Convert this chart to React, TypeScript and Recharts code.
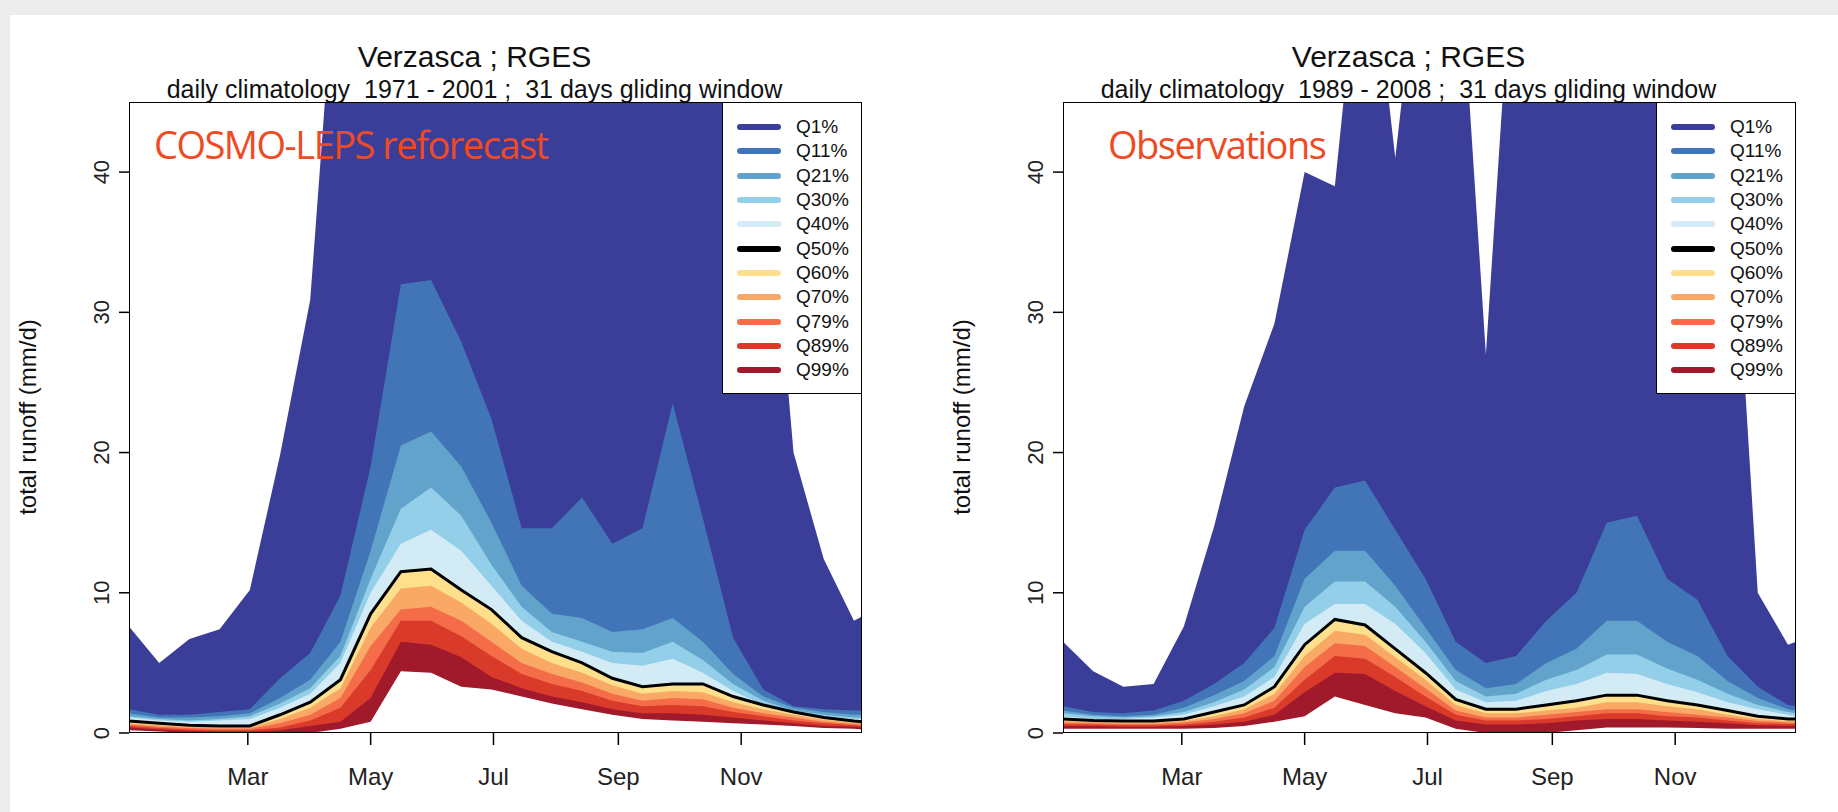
import React from "react";
import { ComposedChart, Area, Line, XAxis, YAxis } from "recharts";

const days = [1, 16, 31, 46, 61, 76, 91, 106, 121, 136, 151, 166, 181, 196, 211, 226, 241, 256, 271, 286, 301, 316, 331, 346, 361, 365];
const monthTicks = [60, 121, 182, 244, 305];
const monthLabels = ["Mar", "May", "Jul", "Sep", "Nov"];
const yTicks = [0, 10, 20, 30, 40];
const quantiles = ["Q1%", "Q11%", "Q21%", "Q30%", "Q40%", "Q50%", "Q60%", "Q70%", "Q79%", "Q89%", "Q99%"];
const legendColors = ["#3b3e98", "#4175b8", "#62a3cc", "#93cfe8", "#d3ebf4", "#000000", "#fddf8c", "#f9a965", "#f46d48", "#d93a2a", "#a01a2c"];
// fill under each curve (region down to the next curve)
const fillColors = ["#3b3e98", "#4175b8", "#62a3cc", "#93cfe8", "#d3ebf4", "#fddf8c", "#f9a965", "#f46d48", "#d93a2a", "#a01a2c", "#ffffff"];

// COSMO-LEPS reforecast 1971-2001
const modelQ = [
  [7.6, 5.0, 6.7, 7.4, 10.2, 19.8, 30.9, 60, 60, 60, 60, 60, 60, 60, 60, 60, 60, 60, 60, 60, 60, 45, 20, 12.4, 8, 8.3],
  [1.7, 1.3, 1.3, 1.5, 1.7, 3.9, 5.7, 9.8, 19, 32, 32.3, 27.9, 22.4, 14.6, 14.6, 16.8, 13.5, 14.6, 23.5, 15.3, 6.8, 3.1, 1.9, 1.7, 1.6, 1.6],
  [1.4, 1.1, 1.1, 1.2, 1.4, 2.5, 3.8, 6.5, 13, 20.5, 21.5, 19, 15, 10.5, 8.5, 8.2, 7.2, 7.4, 8.2, 6.5, 4.2, 2.6, 1.8, 1.5, 1.3, 1.3],
  [1.2, 1.0, 0.9, 1.0, 1.2, 2.1, 3.2, 5.5, 11, 16, 17.5, 15.5, 12, 9, 7.2, 6.5, 5.8, 5.7, 6.5, 5.2, 3.5, 2.3, 1.6, 1.3, 1.1, 1.1],
  [1.1, 0.9, 0.8, 0.9, 1.0, 1.8, 2.8, 5, 10, 13.5, 14.5, 13, 10.5, 8, 6.5, 5.8, 5.0, 4.8, 5.3, 4.3, 3.0, 2.0, 1.4, 1.2, 1.0, 1.0],
  [0.85, 0.7, 0.55, 0.5, 0.5, 1.3, 2.2, 3.8, 8.5, 11.5, 11.7, 10.2, 8.8, 6.8, 5.8, 5.0, 3.9, 3.3, 3.5, 3.5, 2.6, 2.0, 1.5, 1.1, 0.85, 0.8],
  [0.7, 0.55, 0.45, 0.4, 0.4, 1.0, 1.8, 3.2, 7.5, 10.3, 10.5, 9.3, 7.8, 6, 5, 4.3, 3.4, 2.8, 3.0, 2.9, 2.2, 1.7, 1.3, 0.95, 0.75, 0.7],
  [0.6, 0.45, 0.35, 0.3, 0.3, 0.7, 1.3, 2.5, 6.2, 8.8, 9, 8, 6.5, 5, 4.2, 3.6, 2.8, 2.3, 2.5, 2.4, 1.8, 1.4, 1.1, 0.8, 0.65, 0.6],
  [0.5, 0.35, 0.25, 0.2, 0.2, 0.4, 0.9, 1.8, 4.5, 8, 8, 6.9, 5.5, 4.2, 3.5, 3.0, 2.3, 1.9, 2.0, 1.9, 1.5, 1.2, 0.9, 0.7, 0.55, 0.5],
  [0.4, 0.25, 0.15, 0.1, 0.1, 0.2, 0.5, 0.8, 2.5, 6.5, 6.3, 5.4, 4.0, 3.2, 2.6, 2.2, 1.7, 1.4, 1.4, 1.3, 1.1, 0.9, 0.7, 0.5, 0.45, 0.4],
  [0.2, 0.1, 0, 0, 0, 0, 0, 0.3, 0.8, 4.4, 4.3, 3.3, 3.1, 2.6, 2.1, 1.7, 1.3, 1.0, 0.9, 0.8, 0.7, 0.6, 0.5, 0.35, 0.3, 0.25],
];

// Observations 1989-2008
const obsQ = [
  [6.5, 4.4, 3.3, 3.5, 7.6, 14.7, 23.3, 29.2, 40, 39, 60, 41, 60, 60, 27, 60, 60, 60, 60, 60, 60, 60, 45, 10, 6.3, 6.5],
  [1.9, 1.5, 1.4, 1.6, 2.3, 3.5, 5.0, 7.5, 14.5, 17.5, 18, 14.5, 11, 6.5, 5.0, 5.5, 8, 10, 15, 15.5, 11, 9.5, 5.5, 3.3, 2.0, 1.9],
  [1.6, 1.3, 1.2, 1.3, 1.8, 2.7, 3.7, 5.5, 11, 13, 13, 10.5, 7.5, 4.5, 3.2, 3.5, 5, 6, 8, 8, 6.5, 5.5, 3.7, 2.5, 1.7, 1.6],
  [1.4, 1.2, 1.1, 1.2, 1.5, 2.2, 3.1, 4.7, 9, 10.8, 10.8, 9, 6.5, 3.7, 2.6, 2.8, 3.8, 4.5, 5.6, 5.6, 4.6, 3.8, 2.8, 2.0, 1.5, 1.4],
  [1.2, 1.0, 1.0, 1.1, 1.3, 1.9, 2.6, 4.0, 7.8, 9.2, 9.2, 7.8, 5.7, 3.1, 2.2, 2.3, 3.0, 3.5, 4.3, 4.2, 3.5, 2.9, 2.2, 1.7, 1.3, 1.2],
  [1.0, 0.9, 0.85, 0.85, 1.0, 1.5, 2.0, 3.3, 6.3, 8.1, 7.7, 6.0, 4.3, 2.4, 1.7, 1.7, 2.0, 2.3, 2.7, 2.7, 2.3, 2.0, 1.6, 1.2, 1.0, 1.0],
  [0.85, 0.8, 0.75, 0.75, 0.85, 1.2, 1.7, 2.8, 5.5, 7.3, 7.0, 5.4, 3.8, 2.0, 1.4, 1.4, 1.6, 1.8, 2.2, 2.2, 1.9, 1.7, 1.3, 1.0, 0.85, 0.85],
  [0.75, 0.7, 0.65, 0.65, 0.75, 1.0, 1.4, 2.3, 4.7, 6.4, 6.2, 4.7, 3.2, 1.6, 1.1, 1.1, 1.3, 1.5, 1.7, 1.7, 1.5, 1.3, 1.1, 0.85, 0.75, 0.75],
  [0.65, 0.6, 0.55, 0.55, 0.6, 0.8, 1.1, 1.8, 3.8, 5.5, 5.3, 4.0, 2.6, 1.3, 0.9, 0.9, 1.0, 1.2, 1.4, 1.4, 1.2, 1.1, 0.9, 0.7, 0.65, 0.65],
  [0.5, 0.5, 0.45, 0.45, 0.5, 0.6, 0.8, 1.3, 2.9, 4.3, 4.2, 3.0, 1.9, 0.9, 0.6, 0.6, 0.7, 0.9, 1.0, 1.0, 0.9, 0.8, 0.7, 0.55, 0.5, 0.5],
  [0.3, 0.3, 0.3, 0.3, 0.3, 0.35, 0.5, 0.8, 1.2, 2.6, 2.0, 1.4, 1.1, 0.3, 0, 0, 0, 0.2, 0.4, 0.4, 0.4, 0.35, 0.3, 0.3, 0.3, 0.3],
];

const font = "Liberation Sans, Arial, sans-serif";
const W = 919;
const H = 812;
const PLOT_L = 129;
const PLOT_R = 862;
const PLOT_T = 102;
const PLOT_B = 733;
const X_AXIS_H = 60;
const Y_AXIS_W = 50;

function buildRows(q: number[][]) {
  return days.map((d, i) => {
    const row: Record<string, number> = { day: d };
    q.forEach((s, k) => (row["q" + k] = s[i]));
    return row;
  });
}

const YTick = (props: any) => {
  const { x, y, payload } = props;
  return (
    <text x={x - 8} y={y} transform={`rotate(-90 ${x - 8} ${y})`} textAnchor="middle" fontSize={22} fontFamily={font} fill="#222">
      {payload.value}
    </text>
  );
};

const XTick = (props: any) => {
  const { x, y, payload } = props;
  const idx = monthTicks.indexOf(payload.value);
  return (
    <text x={x} y={y + 38} textAnchor="middle" fontSize={24} fontFamily={font} fill="#222">
      {monthLabels[idx]}
    </text>
  );
};

function Panel({ left, q, period, label, labelOffset }: { left: number; q: number[][]; period: string; label: string; labelOffset: number }) {
  const rows = buildRows(q);
  return (
    <div style={{ position: "absolute", left, top: 0, width: W, height: H }}>
      <div style={{ position: "absolute", left: 0, width: W + 30, top: 40, textAlign: "center", fontFamily: font, fontSize: 30, color: "#111" }}>
        Verzasca ; RGES
      </div>
      <div style={{ position: "absolute", left: 0, width: W + 30, top: 75, textAlign: "center", fontFamily: font, fontSize: 25, color: "#111", whiteSpace: "pre" }}>
        {`daily climatology  ${period} ;  31 days gliding window`}
      </div>
      <div style={{ position: "absolute", left: 0, top: 0 }}>
        <ComposedChart width={W} height={H} data={rows} margin={{ top: PLOT_T, right: W - PLOT_R, bottom: H - PLOT_B - X_AXIS_H, left: PLOT_L - Y_AXIS_W }}>
          <XAxis dataKey="day" type="number" domain={[1, 365]} ticks={monthTicks} tick={<XTick />} tickLine={{ stroke: "#000", strokeWidth: 1.5 }} tickSize={12} axisLine={false} height={X_AXIS_H} />
          <YAxis domain={[0, 45]} allowDataOverflow ticks={yTicks} tick={<YTick />} tickLine={{ stroke: "#000", strokeWidth: 1.5 }} tickSize={10} axisLine={false} width={Y_AXIS_W} />
          {q.map((_, k) => (
            <Area key={k} dataKey={"q" + k} type="linear" baseValue={0} stroke="none" fill={fillColors[k]} fillOpacity={1} isAnimationActive={false} />
          ))}
          <Line dataKey="q5" type="linear" stroke="#000" strokeWidth={3} dot={false} isAnimationActive={false} />
        </ComposedChart>
      </div>
      <div style={{ position: "absolute", left: PLOT_L, top: PLOT_T, width: PLOT_R - PLOT_L, height: PLOT_B - PLOT_T, border: "1.5px solid #000", boxSizing: "border-box", pointerEvents: "none" }} />
      <div style={{ position: "absolute", left: PLOT_L + labelOffset, top: 118, fontFamily: "Open Sans, sans-serif", fontSize: 38, letterSpacing: -1.5, color: "#ef4a24" }}>
        {label}
      </div>
      <div style={{ position: "absolute", left: 722, top: PLOT_T, width: PLOT_R - 722, height: 292, background: "#fff", border: "1.5px solid #000", boxSizing: "border-box", paddingTop: 12 }}>
        {quantiles.map((name, k) => (
          <div key={name} style={{ display: "flex", alignItems: "center", height: 24.3 }}>
            <div style={{ marginLeft: 14, width: 44, height: 6, borderRadius: 3, background: legendColors[k] }} />
            <span style={{ marginLeft: 15, fontFamily: font, fontSize: 19, color: "#111" }}>{name}</span>
          </div>
        ))}
      </div>
      <div style={{ position: "absolute", left: 28, top: 417, transform: "translate(-50%, -50%) rotate(-90deg)", fontFamily: font, fontSize: 24, color: "#111", whiteSpace: "nowrap" }}>
        total runoff (mm/d)
      </div>
    </div>
  );
}

export default function App() {
  return (
    <div style={{ position: "absolute", left: 0, top: 0, width: 1838, height: 812, background: "#ececec", overflow: "hidden" }}>
      <div style={{ position: "absolute", left: 10, top: 15, width: 1828, height: 797, background: "#fff" }} />
      <Panel left={0} q={modelQ} period="1971 - 2001" label="COSMO-LEPS reforecast" labelOffset={25} />
      <Panel left={934} q={obsQ} period="1989 - 2008" label="Observations" labelOffset={45} />
    </div>
  );
}
